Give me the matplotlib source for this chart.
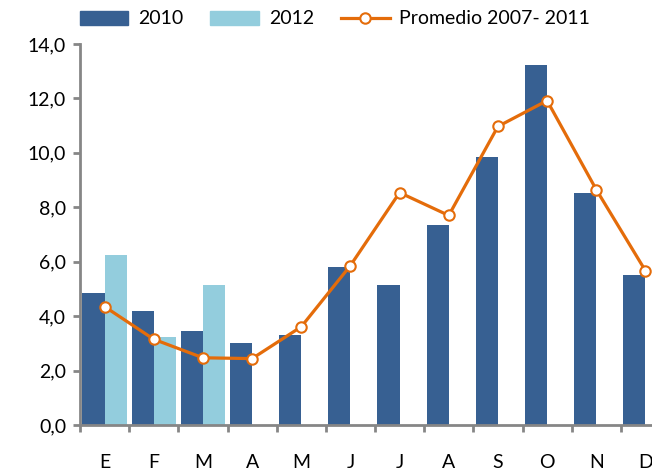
import numpy as np
import matplotlib
matplotlib.use('Agg')
import matplotlib.pyplot as plt
from matplotlib.patches import Patch
from matplotlib.lines import Line2D
from matplotlib.ticker import FuncFormatter

plt.rcParams['font.family'] = ['Lato', 'DejaVu Sans']

months = ['E', 'F', 'M', 'A', 'M', 'J', 'J', 'A', 'S', 'O', 'N', 'D']
v2010 = [4.86, 4.19, 3.46, 3.01, 3.31, 5.81, 5.15, 7.35, 9.85, 13.24, 8.53, 5.51]
v2012 = [6.25, 3.24, 5.15]
promedio = [4.35, 3.15, 2.47, 2.44, 3.61, 5.86, 8.54, 7.70, 10.97, 11.92, 8.65, 5.67]

c_dark = '#376092'
c_light = '#93CDDD'
c_orange = '#E46C0A'
c_axis = '#868686'

fig = plt.figure(figsize=(6.52, 4.72), dpi=100)
ax = fig.add_axes([80 / 652, 47 / 472, 590 / 652, 381 / 472])

x = np.arange(len(months))
w = 0.45
ax.bar(x - w / 2, v2010, width=w, color=c_dark, zorder=2)
ax.bar(x[:len(v2012)] + w / 2, v2012, width=w, color=c_light, zorder=2)
ax.plot(x, promedio, color=c_orange, lw=2.3, marker='o', ms=7.5,
        mfc='white', mec=c_orange, mew=1.5, zorder=3)

ax.set_xlim(-0.5, len(months) - 0.5)
ax.set_ylim(0, 14)
ax.set_yticks(np.arange(0, 14.1, 2))
ax.yaxis.set_major_formatter(FuncFormatter(lambda v, p: f'{v:.1f}'.replace('.', ',')))

ax.set_xticks(x)
ax.set_xticklabels(months)
ax.set_xticks(np.arange(-0.5, len(months), 1), minor=True)
ax.tick_params(axis='x', which='major', length=0, pad=21, labelsize=14)
ax.tick_params(axis='x', which='minor', length=5, width=2, color=c_axis)
ax.tick_params(axis='y', length=5, width=2, color=c_axis, pad=5, labelsize=14)

for s in ['top', 'right']:
    ax.spines[s].set_visible(False)
for s in ['left', 'bottom']:
    ax.spines[s].set_color(c_axis)
    ax.spines[s].set_linewidth(2)

handles = [Patch(color=c_dark), Patch(color=c_light),
           Line2D([], [], color=c_orange, lw=2.3, marker='o', ms=7.5,
                  mfc='white', mec=c_orange, mew=1.5)]
fig.legend(handles, ['2010', '2012', 'Promedio 2007- 2011'], ncol=3,
           loc='center', bbox_to_anchor=(335 / 652, 1 - 19 / 472),
           frameon=False, fontsize=14, handlelength=2.5, handleheight=0.7,
           columnspacing=1.4, handletextpad=0.5)

fig.savefig('out.png', dpi=100)
